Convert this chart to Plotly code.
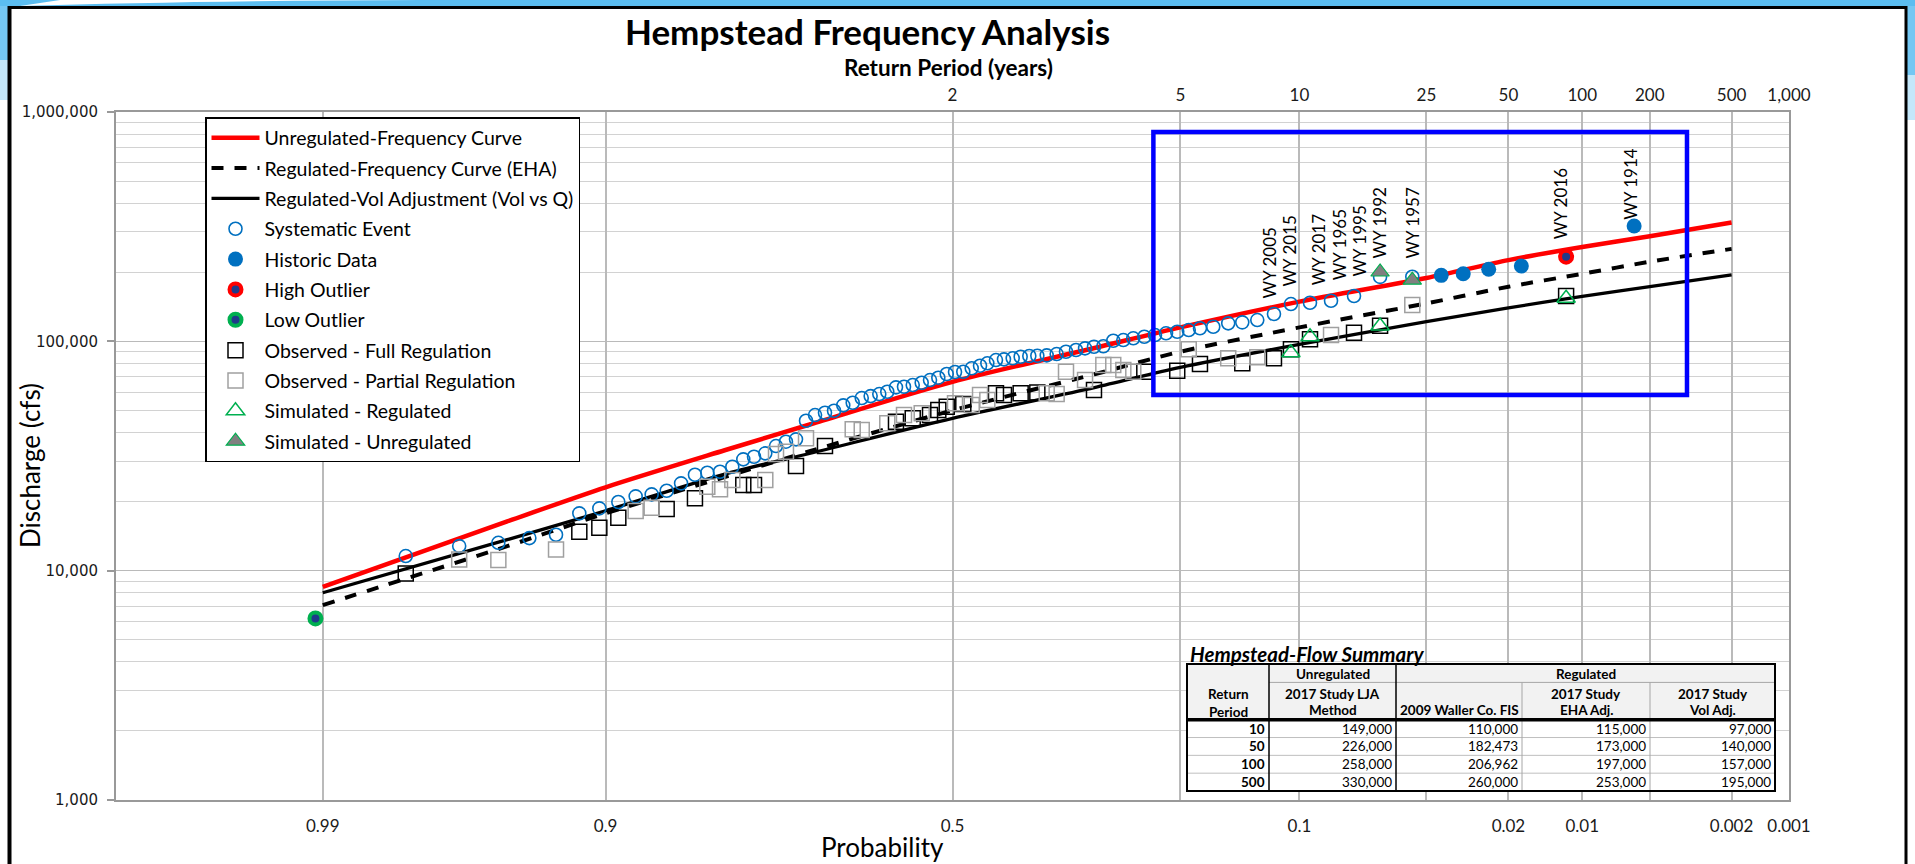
import math
from statistics import NormalDist

import plotly.graph_objects as go

# ------------------------------------------------------------------
# Frequency curves: points (exceedance probability
# -> discharge in cfs); the study values from the summary table are
# merged in at their return periods.
# ------------------------------------------------------------------
curve_prob = [0.99, 0.95, 0.9, 0.8, 0.7, 0.5, 0.3, 0.2, 0.04, 0.005]
unreg_curve_q = [8500, 16400, 23100, 33500, 43500, 66600, 93500, 115000, 189000, 287000]
eha_curve_q = [7080, 12790, 17780, 25600, 33270, 50020, 71870, 90100, 146400, 222400]
vol_curve_q = [8010, 13650, 18250, 26380, 32510, 46150, 62870, 77000, 121800, 173000]

# Hempstead-Flow Summary table
return_period = [10, 50, 100, 500]
unreg_lja = [149000, 226000, 258000, 330000]
waller_fis = [110000, 182473, 206962, 260000]
eha_adj = [115000, 173000, 197000, 253000]
vol_adj = [97000, 140000, 157000, 195000]

# Systematic record (plotting position, peak discharge)
systematic_p = [
    0.9783, 0.9658, 0.9533, 0.9410, 0.9285, 0.9160, 0.9040, 0.8915, 0.8791, 0.8668,
    0.8545, 0.8420, 0.8293, 0.8175, 0.8048, 0.7920, 0.7802, 0.7683, 0.7554, 0.7428,
    0.7308, 0.7184, 0.7058, 0.6942, 0.6812, 0.6692, 0.6567, 0.6438, 0.6313, 0.6188,
    0.6066, 0.5952, 0.5827, 0.5711, 0.5584, 0.5453, 0.5331, 0.5209, 0.5085, 0.4963,
    0.4841, 0.4717, 0.4595, 0.4488, 0.4362, 0.4246, 0.4120, 0.4006, 0.3883, 0.3770,
    0.3639, 0.3502, 0.3375, 0.3241, 0.3122, 0.3006, 0.2887, 0.2763, 0.2640, 0.2521,
    0.2393, 0.2272, 0.2151, 0.2032, 0.1914, 0.1803, 0.1677, 0.1542, 0.1422, 0.1301,
    0.1175, 0.1056, 0.0933, 0.0810, 0.0690, 0.0571, 0.0447,
]
systematic_q = [
    11580, 12800, 13230, 13870, 14340, 17780, 18690, 19920, 21090, 21510,
    22310, 24030, 26190, 26720, 26990, 28390, 30580, 31380, 32480, 34950,
    36500, 37380, 45050, 47710, 48820, 49810, 52590, 53970, 56570, 57710,
    58900, 60280, 63000, 63390, 64480, 65980, 67800, 69400, 72020, 73480,
    73700, 76280, 78290, 80200, 82880, 83470, 84320, 85670, 86280, 86500,
    86870, 88020, 90070, 91650, 93220, 94730, 95200, 100600, 101300, 103100,
    104700, 106500, 108400, 110100, 112000, 114000, 115800, 119800, 121000, 123800,
    131600, 145400, 147300, 150300, 157600, 191000, 191300,
]

historic_p = [0.0355, 0.0296, 0.0238, 0.0178, 0.0059]
historic_q = [194000, 197100, 206100, 213000, 318300]

high_outlier_p = [0.0117]
high_outlier_q = [233900]

low_outlier_p = [0.9907]
low_outlier_q = [6190]

full_reg_p = [
    0.9783, 0.9160, 0.9040, 0.8915, 0.8545, 0.8293, 0.7802, 0.7683, 0.7184, 0.6812,
    0.5827, 0.5584, 0.5331, 0.5209, 0.5085, 0.4841, 0.4362, 0.4246, 0.4006, 0.3770,
    0.3006, 0.2393, 0.2032, 0.1803, 0.1422, 0.1175, 0.1056, 0.0933, 0.0690, 0.0571,
    0.0117,
]
full_reg_q = [
    9730, 14770, 15380, 17010, 18560, 20670, 23620, 23620, 28590, 34950,
    44600, 46150, 47710, 50170, 51860, 53280, 59320, 58320, 59320, 59800,
    61310, 73700, 74440, 79620, 80200, 84320, 92290, 102000, 109000, 116900,
    157600,
]

partial_reg_p = [
    0.9658, 0.9533, 0.9285, 0.8791, 0.8668, 0.8175, 0.8048, 0.7920, 0.7554, 0.7428,
    0.7308, 0.7058, 0.6438, 0.6313, 0.5952, 0.5711, 0.5453, 0.4963, 0.4717, 0.4595,
    0.4488, 0.3639, 0.3502, 0.3375, 0.3122, 0.2887, 0.2763, 0.2640, 0.2521, 0.1914,
    0.1542, 0.1301, 0.0810, 0.0447,
]
partial_reg_q = [
    11200, 11120, 12380, 18190, 18800, 23220, 22620, 24840, 24840, 32250,
    33000, 37760, 41320, 41040, 43890, 47710, 48530, 53650, 52740, 58320,
    55460, 59320, 58900, 73700, 67800, 78830, 78830, 74950, 73700, 92290,
    84320, 85160, 106500, 144000,
]

sim_reg_p = [0.1056, 0.0933, 0.0571, 0.0117]
sim_reg_q = [89200, 104700, 116600, 154000]

sim_unreg_p = [0.0571, 0.0447]
sim_unreg_q = [200600, 184800]

# Water-year labels: (text, series, index in series)
wy_labels = [
    ("WY 2005", "sys", 70), ("WY 2015", "sys", 71), ("WY 2017", "sys", 72),
    ("WY 1965", "sys", 73), ("WY 1995", "sys", 74), ("WY 1992", "sys", 75),
    ("WY 1957", "sys", 76), ("WY 2016", "high", 0), ("WY 1914", "hist", 4),
]

# Axis ticks
grid_prob = [0.999, 0.99, 0.9, 0.5, 0.2, 0.1, 0.04, 0.02, 0.01, 0.005, 0.002, 0.001]
grid_text = ["", "0.99", "0.9", "0.5", "", "0.1", "", "0.02", "0.01", "", "0.002", "0.001"]
top_return = [2, 5, 10, 25, 50, 100, 200, 500, 1000]
top_text = ["2", "5", "10", "25", "50", "100", "200", "500", "1,000"]
q_ticks = [1000, 10000, 100000, 1000000]
q_text = ["1,000", "10,000", "100,000", "1,000,000"]

# Highlighted region (exceedance probability, discharge)
focus_p = (0.229, 0.00333)
focus_q = (58300, 818000)

# ------------------------------------------------------------------
W, H = 1915, 864
PL, PR, PT, PB = 116, 1789, 112, 800
FONT = "Lato"
TXT = "#1a1a1a"
BLUE = "#0070C0"
RED = "#FF0000"
GREEN = "#00B050"
GRID = "#BABABA"
GRID_MINOR = "#D2D2D2"
AXIS = "#999999"

_nd = NormalDist()


def zpos(p):
    """Normal-probability-paper coordinate of an exceedance probability."""
    return _nd.inv_cdf(1.0 - p)


def zl(ps):
    return [zpos(p) for p in ps]


def px(x):
    return (x - PL) / (PR - PL)


def py(y):
    return (PB - y) / (PB - PT)


def merged_curve(read_q, table_q):
    pts = list(zip(curve_prob, read_q)) + [(1.0 / t, q) for t, q in zip(return_period, table_q)]
    pts.sort(key=lambda t: -t[0])
    return [p for p, _ in pts], [q for _, q in pts]


fig = go.Figure()

# Frequency curves
for name, read_q, tab_q, line in [
    ("Unregulated-Frequency Curve", unreg_curve_q, unreg_lja, dict(color=RED, width=4.5)),
    ("Regulated-Frequency Curve (EHA)", eha_curve_q, eha_adj, dict(color="#000000", width=4, dash="12px,11px")),
    ("Regulated-Vol Adjustment (Vol vs Q)", vol_curve_q, vol_adj, dict(color="#000000", width=3.3)),
]:
    cp, cq = merged_curve(read_q, tab_q)
    fig.add_trace(go.Scatter(x=zl(cp), y=cq, mode="lines", name=name, legendgroup=name,
                             line=dict(shape="spline", smoothing=0.8, **line), hoverinfo="skip"))

# Point series
marker_series = [
    ("Systematic Event", systematic_p, systematic_q,
     dict(symbol="circle-open", size=13, color=BLUE, line=dict(width=1.6))),
    ("Historic Data", historic_p, historic_q,
     dict(symbol="circle", size=15, color=BLUE, line=dict(width=0))),
    ("High Outlier", high_outlier_p, high_outlier_q,
     dict(symbol="circle", size=12, color="#1F3A8A", line=dict(color=RED, width=4))),
    ("Low Outlier", low_outlier_p, low_outlier_q,
     dict(symbol="circle", size=12, color="#1F3A8A", line=dict(color=GREEN, width=4))),
    ("Observed - Full Regulation", full_reg_p, full_reg_q,
     dict(symbol="square-open", size=15, color="#000000", line=dict(width=1.5))),
    ("Observed - Partial Regulation", partial_reg_p, partial_reg_q,
     dict(symbol="square-open", size=15, color="#A0A0A0", line=dict(width=1.5))),
    ("Simulated - Regulated", sim_reg_p, sim_reg_q,
     dict(symbol="triangle-up-open", size=16, color=GREEN, line=dict(width=1.5))),
    ("Simulated - Unregulated", sim_unreg_p, sim_unreg_q,
     dict(symbol="triangle-up", size=16, color="#808080", line=dict(color=GREEN, width=1.2))),
]
for name, ps, qs, mk in marker_series:
    fig.add_trace(go.Scatter(x=zl(ps), y=qs, mode="markers", name=name, legendgroup=name,
                             marker=mk, hoverinfo="skip"))

# carrier for the return-period axis along the top
fig.add_trace(go.Scatter(x=[], y=[], xaxis="x2", yaxis="y", showlegend=False, hoverinfo="skip"))

# Water-year labels above their events
series_lookup = {
    "sys": (systematic_p, systematic_q),
    "high": (high_outlier_p, high_outlier_q),
    "hist": (historic_p, historic_q),
}
label_shift = [(-4, 14), (-1, 16), (8, 15), (8, 18), (6, 17), (-1, 16), (0, 16), (-6, 15), (-4, 4)]
for (text, key, idx), (dx, dy) in zip(wy_labels, label_shift):
    ps, qs = series_lookup[key]
    fig.add_annotation(x=zpos(ps[idx]), y=math.log10(qs[idx]), xref="x", yref="y",
                       text=text, textangle=-90, showarrow=False,
                       xanchor="center", yanchor="bottom", xshift=dx, yshift=dy,
                       font=dict(family=FONT, size=17, color="#000000"))

# Highlight box
fig.add_shape(type="rect", xref="x", yref="y",
              x0=zpos(focus_p[0]), x1=zpos(focus_p[1]), y0=focus_q[0], y1=focus_q[1],
              line=dict(color="#0000FF", width=4.5), layer="above")


# ---------------- pixel-placed helpers for the page furniture ----------------
def prect(x0, y0, x1, y1, fill=None, line_color=None, line_width=0, layer="above"):
    fig.add_shape(type="rect", xref="paper", yref="paper",
                  x0=px(x0), x1=px(x1), y0=py(y1), y1=py(y0),
                  fillcolor=fill, line=dict(color=line_color or "rgba(0,0,0,0)", width=line_width),
                  layer=layer)


def pline(x0, y0, x1, y1, color, width):
    fig.add_shape(type="line", xref="paper", yref="paper",
                  x0=px(x0), y0=py(y0), x1=px(x1), y1=py(y1),
                  line=dict(color=color, width=width), layer="above")


def ptext(x, y, text, size, anchor="center", angle=0, family=FONT, color="#000000"):
    fig.add_annotation(xref="paper", yref="paper", x=px(x), y=py(y), text=text,
                       showarrow=False, xanchor=anchor, yanchor="middle", textangle=angle,
                       font=dict(family=family, size=size, color=color))


# Slide banner and frame
prect(0, 0, W, 6, fill="#5BBDF0")
prect(0, 6, 8, 60, fill="#74C7F3")
prect(0, 60, 8, 100, fill="#C4E7FA")
prect(1906, 6, W, 75, fill="#74C7F3")
prect(1906, 75, W, 120, fill="#C4E7FA")
fig.add_shape(type="path", xref="paper", yref="paper",
              path=f"M {px(20)},{py(6)} Q {px(200)},{py(0.5)} {px(420)},{py(0)} L {px(60)},{py(0)} Z",
              fillcolor="white", line=dict(width=0), layer="above")
pline(8, 7.5, 1907, 7.5, "#000000", 3)
pline(9.5, 6, 9.5, H, "#000000", 4)
pline(1906, 6, 1906, H, "#000000", 3)

# Titles
ptext(867, 31, "<b>Hempstead Frequency Analysis</b>", 35)
ptext(948, 67.5, "<b>Return Period (years)</b>", 22.5)
ptext(882, 847, "Probability", 26)
ptext(30, 466, "Discharge (cfs)", 26, angle=-90)

# ---------------- Flow summary table ----------------
TX = [1187, 1269, 1396, 1522, 1650, 1775]
T_TOP, T_ROW1, T_HEAD, T_BOT = 664, 682.4, 719.7, 791
row_h = (T_BOT - T_HEAD) / len(return_period)

prect(TX[0], T_TOP, TX[-1], T_HEAD, fill="#F2F2F2")
prect(TX[0], T_HEAD, TX[-1], T_BOT, fill="#FFFFFF")
for i in range(1, len(return_period)):
    yy = T_HEAD + i * row_h
    pline(TX[0], yy, TX[-1], yy, "#BFBFBF", 1)
pline(TX[1], T_ROW1, TX[-1], T_ROW1, "#A6A6A6", 1)
pline(TX[3], T_ROW1, TX[3], T_BOT, "#A6A6A6", 1)
pline(TX[4], T_ROW1, TX[4], T_BOT, "#A6A6A6", 1)
pline(TX[1], T_TOP, TX[1], T_BOT, "#000000", 1.5)
pline(TX[2], T_TOP, TX[2], T_BOT, "#000000", 1.5)
pline(TX[0], T_HEAD, TX[-1], T_HEAD, "#000000", 3.5)
prect(TX[0], T_TOP, TX[-1], T_BOT, line_color="#000000", line_width=2)

ptext(TX[0] + 1, 654, "<b><i>Hempstead-Flow Summary</i></b>", 20.5, anchor="left")
HS = 13.5
mid = lambda a, b: (a + b) / 2
ptext(mid(TX[1], TX[2]), 673.5, "<b>Unregulated</b>", HS)
ptext(mid(TX[2], TX[5]), 673.5, "<b>Regulated</b>", HS)
ptext(mid(TX[0], TX[1]), 693.6, "<b>Return</b>", HS)
ptext(mid(TX[0], TX[1]), 711.5, "<b>Period</b>", HS)
ptext(mid(TX[1], TX[2]), 693.6, "<b>2017 Study LJA</b>", HS)
ptext(mid(TX[1], TX[2]), 710.3, "<b>Method</b>", HS)
ptext(mid(TX[2], TX[3]), 710.3, "<b>2009 Waller Co. FIS</b>", HS)
ptext(mid(TX[3], TX[4]), 693.6, "<b>2017 Study</b>", HS)
ptext(mid(TX[3], TX[4]), 710.3, "<b>EHA Adj.</b>", HS)
ptext(mid(TX[4], TX[5]), 693.6, "<b>2017 Study</b>", HS)
ptext(mid(TX[4], TX[5]), 710.3, "<b>Vol Adj.</b>", HS)

for i, t in enumerate(return_period):
    yc = T_HEAD + (i + 0.5) * row_h
    ptext(TX[1] - 2, yc, f"<b>{t}</b>", HS, anchor="right")
    for c, col in enumerate([unreg_lja, waller_fis, eha_adj, vol_adj]):
        ptext(TX[c + 2] - 2, yc, f"{col[i]:,}", HS, anchor="right")

# ---------------- axes & layout ----------------
x_range = [zpos(0.999), zpos(0.001)]
minor_q = [k * 10 ** d for d in (3, 4, 5) for k in range(2, 10)]

fig.update_layout(
    width=W, height=H, autosize=False,
    margin=dict(l=PL, r=W - PR, t=PT, b=H - PB, pad=0),
    paper_bgcolor="white", plot_bgcolor="white",
    font=dict(family=FONT, color=TXT),
    xaxis=dict(
        range=x_range, tickmode="array", tickvals=zl(grid_prob), ticktext=grid_text,
        showgrid=True, gridcolor=GRID, gridwidth=1.5, zeroline=False,
        showline=True, linecolor=AXIS, linewidth=2, mirror=True,
        ticks="", ticklabelstandoff=10,
        tickfont=dict(family=FONT, size=17, color=TXT),
    ),
    xaxis2=dict(
        range=x_range, overlaying="x", side="top", tickmode="array",
        tickvals=[zpos(1.0 / t) for t in top_return], ticktext=top_text,
        showgrid=False, zeroline=False, showline=False, ticks="", ticklabelstandoff=7,
        tickfont=dict(family=FONT, size=17, color=TXT),
    ),
    yaxis=dict(
        type="log", range=[3, 6], tickmode="array", tickvals=q_ticks, ticktext=q_text,
        showgrid=True, gridcolor=GRID, gridwidth=1.3, zeroline=False,
        minor=dict(tickmode="array", tickvals=minor_q, showgrid=True, gridcolor=GRID_MINOR, gridwidth=1, ticks=""),
        ticks="outside", ticklen=7, tickwidth=1.5, tickcolor=AXIS,
        showline=True, linecolor=AXIS, linewidth=2, mirror=True, ticklabelstandoff=6,
        tickfont=dict(family="DejaVu Sans", size=15, color=TXT),
    ),
    showlegend=True,
    legend=dict(
        x=px(205), y=py(117), xanchor="left", yanchor="top",
        bgcolor="white", bordercolor="#000000", borderwidth=1.5,
        font=dict(family=FONT, size=19.5, color="#000000"),
        itemwidth=48, tracegroupgap=2, traceorder="grouped",
    ),
)

fig.write_html("out.html")
